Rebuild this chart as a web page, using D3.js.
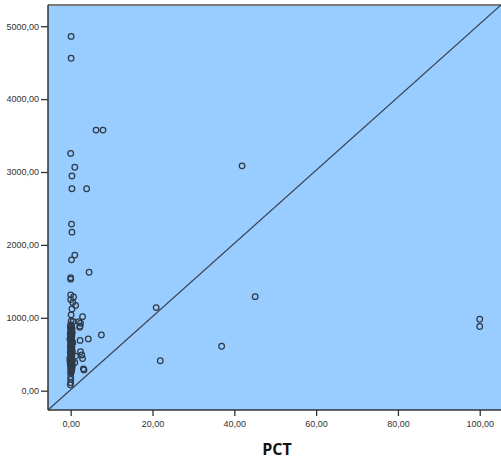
<!DOCTYPE html>
<html>
<head>
<meta charset="utf-8">
<script src="https://cdn.jsdelivr.net/npm/d3@7/dist/d3.min.js"></script>
<style>
  html, body { margin: 0; padding: 0; background: #ffffff; }
  svg { display: block; }
</style>
</head>
<body>
<svg id="chart" width="501" height="466"></svg>
<script>
// ---- data ----
const pct = [
  0.1, 0.1, 6.2, 7.9, 0.0, 1.0, 0.3, 0.3, 3.9, 0.2, 0.3, 1.0, 0.2, 4.5, 0.0, 0.0,
  0.0, 0.7, 0.0, 0.5, 1.2, 0.3, 0.1, 2.9, 0.1, 0.6, 2.0, 2.4, 2.3, 2.2,
  41.9, 45.1, 20.9, 36.9, 21.9, 100.0, 100.0,
  7.5, 4.3, 2.3, 2.4, 1.2, 2.7, 2.9, 3.1, 3.25, 1.0,
  0.0, 0.0, 0.0, -0.1,
  0.0, 0.2, -0.1, 0.3, 0.1, 0.0, 0.2, 0.4, -0.1, 0.1, 0.3, 0.0, 0.2, -0.2, 0.1,
  0.4, 0.0, 0.2, 0.1, -0.1, 0.3, 0.0, 0.2, 0.1, 0.4, -0.1, 0.2, 0.0, 0.3, 0.1,
  -0.2, 0.2, 0.0, 0.4, 0.1, 0.3, -0.1, 0.2, 0.0, 0.1, 0.3, 0.0, 0.2, 0.1, 0.0,
  0.3, -0.1, 0.2, 0.5, 0.0, 0.3, 0.1, -0.2, 0.4, 0.2
];
const value = [
  4860, 4560, 3575, 3575, 3255, 3065, 2945, 2770, 2770, 2285, 2175, 1860, 1795, 1625, 1550, 1530,
  1315, 1285, 1250, 1210, 1170, 1120, 1040, 1015, 955, 950, 945, 925, 885, 870,
  3085, 1290, 1140, 610, 410, 980, 880,
  765, 710, 690, 535, 475, 490, 440, 300, 285, 385,
  190, 155, 110, 80,
  905, 888, 872, 858, 841, 826, 812, 797, 781, 764, 752, 736, 719, 706, 691,
  674, 662, 644, 631, 617, 598, 586, 571, 553, 542, 527, 509, 496, 482, 466,
  451, 437, 418, 404, 392, 374, 361, 347, 329, 316, 302, 288, 268, 255, 240,
  845, 770, 702, 655, 580, 520, 458, 412, 335, 276
];
const xTicks = [0, 20, 40, 60, 80, 100];
const yTicks = [0, 1000, 2000, 3000, 4000, 5000];
const xTitle = "PCT";

// ---- layout ----
const svg = d3.select("#chart");
const pLeft = 48, pTop = 5, pRight = 501, pBottom = 410;

const x = d3.scaleLinear().domain([-5.55, 105.2]).range([pLeft, pRight]);
const y = d3.scaleLinear().domain([-265, 5291]).range([pBottom, pTop]);

const fmt = v => d3.format(".2f")(v).replace(".", ",");

// background
svg.append("rect")
  .attr("x", pLeft).attr("y", pTop)
  .attr("width", pRight - pLeft).attr("height", pBottom - pTop)
  .attr("fill", "#99ccff");

// top border
svg.append("line")
  .attr("x1", pLeft).attr("x2", pRight)
  .attr("y1", pTop).attr("y2", pTop)
  .attr("stroke", "#7a7a7a").attr("stroke-width", 2);

// diagonal reference line
const xd = x.domain(), yd = y.domain();
svg.append("line")
  .attr("x1", x(xd[0])).attr("y1", y(yd[0]))
  .attr("x2", x(xd[1])).attr("y2", y(yd[1]))
  .attr("stroke", "#3a4450").attr("stroke-width", 1.2);

// axes
const yAxis = d3.axisLeft(y).tickValues(yTicks).tickFormat(fmt).tickSize(7).tickPadding(2);
const xAxis = d3.axisBottom(x).tickValues(xTicks).tickFormat(fmt).tickSize(6).tickPadding(5);

const gy = svg.append("g").attr("transform", `translate(${pLeft},0)`).call(yAxis);
const gx = svg.append("g").attr("transform", `translate(0,${pBottom})`).call(xAxis);

[gx, gy].forEach(g => {
  g.select(".domain").remove();
  g.selectAll(".tick line").attr("stroke", "#333").attr("stroke-width", 1.3);
  g.selectAll(".tick text")
    .attr("fill", "#333")
    .style("font-family", "'Liberation Sans', Arial, sans-serif")
    .style("font-size", "9px");
});

// axis lines
svg.append("line")
  .attr("x1", pLeft).attr("x2", pLeft)
  .attr("y1", pTop).attr("y2", pBottom)
  .attr("stroke", "#333").attr("stroke-width", 1.5);
svg.append("line")
  .attr("x1", pLeft).attr("x2", pRight)
  .attr("y1", pBottom).attr("y2", pBottom)
  .attr("stroke", "#333").attr("stroke-width", 1.5);

// points
const pts = pct.map((p, i) => ({ p, v: value[i] }));
svg.append("g").selectAll("circle")
  .data(pts).join("circle")
  .attr("cx", d => x(d.p))
  .attr("cy", d => y(d.v))
  .attr("r", 2.8)
  .attr("fill", "none")
  .attr("stroke", "#2f3a48")
  .attr("stroke-width", 1.25);

// x title
svg.append("text")
  .attr("x", 277).attr("y", 455)
  .attr("text-anchor", "middle")
  .style("font-family", "'Open Sans', 'Liberation Sans', Arial, sans-serif")
  .style("font-weight", "bold")
  .style("font-size", "16px")
  .attr("fill", "#111")
  .text(xTitle);
</script>
</body>
</html>
